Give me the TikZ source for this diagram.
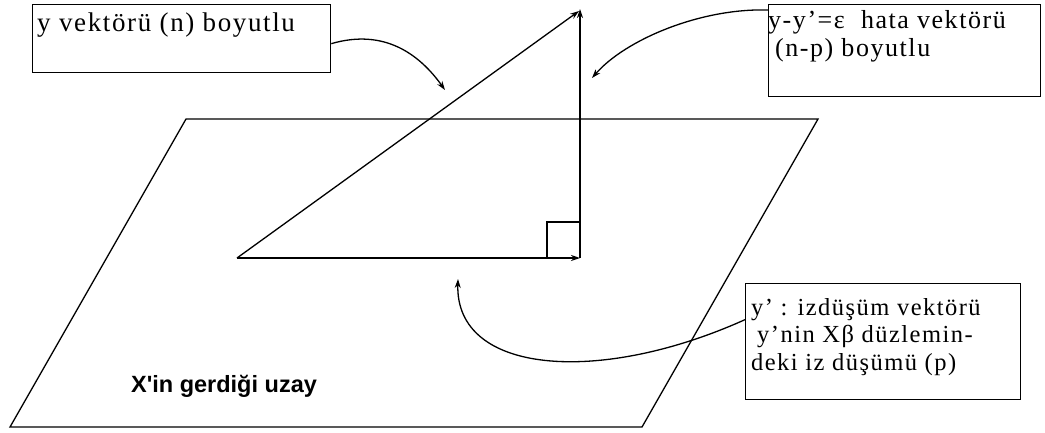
\documentclass[tikz,border=0pt]{standalone}
\usepackage{fontspec}
\setmainfont{Liberation Serif}
\newfontfamily\boxfont[LetterSpace=6]{Liberation Serif}
\newfontfamily\planefont{Liberation Sans}
\usetikzlibrary{arrows.meta}
\begin{document}
\begin{tikzpicture}[x=1pt,y=-1pt,
  ln/.style={line width=1.3pt,line join=miter},
  tip/.style={-{Stealth[length=9pt,width=6pt]}},
  boxshape/.style={draw,line width=1.3pt,inner sep=0pt,anchor=north west},
  boxtext/.style={inner sep=0pt,anchor=base west,align=left,font=\boxfont\fontsize{26}{28}\selectfont},
  planetext/.style={inner sep=0pt,anchor=base,font=\planefont\bfseries\fontsize{23.5}{26}\selectfont}]
\useasboundingbox (0,0) rectangle (1045,432);
\fill[white] (0,0) rectangle (1045,432);
% plane
\coordinate (p1) at (186,119);
\coordinate (p2) at (818,119);
\coordinate (p3) at (642,427);
\coordinate (p4) at (10,427);
\draw[ln] (p1) -- (p2) -- (p3) -- (p4) -- cycle;
\node[planetext] (plane) at (224,392) {X'in gerdiği uzay};
% triangle
\coordinate (O) at (237,258);
\coordinate (P) at (580,258);
\coordinate (Y) at (580,9);
\coordinate (Yh) at (579,11);
\draw[ln] (547,258) -- (547,222) -- (580,222);
\draw[ln,tip] (O) -- (P);
\draw[ln,tip] (O) -- (Yh);
\draw[ln,tip] (P) -- (Y);
% boxes
\node[boxshape,minimum width=298pt,minimum height=68pt] (b1) at (32,4) {};
\node[boxtext,font=\boxfont\fontsize{27}{28}\selectfont] (t1) at (37,31) {y vektörü (n) boyutlu};
\node[boxshape,minimum width=272pt,minimum height=92pt] (b2) at (768,4) {};
\node[boxtext] (t2) at (768,56) {y-y’=ε~ hata vektörü\\\hspace*{7pt}(n-p) boyutlu};
\node[boxshape,minimum width=275pt,minimum height=116pt] (b3) at (745,283) {};
\node[boxtext,font=\boxfont\fontsize{24.5}{27.5}\selectfont] (t3) at (751,370) {y’ : izdüşüm vektörü\\\hspace*{6pt}y’nin Xβ düzlemin-\\deki iz düşümü (p)};
% connectors
\coordinate (a1) at (445,90);
\coordinate (a2) at (592,78);
\coordinate (a3) at (458,279);
\draw[ln,tip] ([yshift=-5pt]b1.east) .. controls (385,28) and (420,55) .. (a1);
\draw[ln,tip] ([yshift=-6pt]b2.north west) .. controls (700,8) and (625,40) .. (a2);
\draw[ln,tip] ([yshift=22pt]b3.west) .. controls (600,385) and (455,375) .. (a3);
\end{tikzpicture}
\end{document}
